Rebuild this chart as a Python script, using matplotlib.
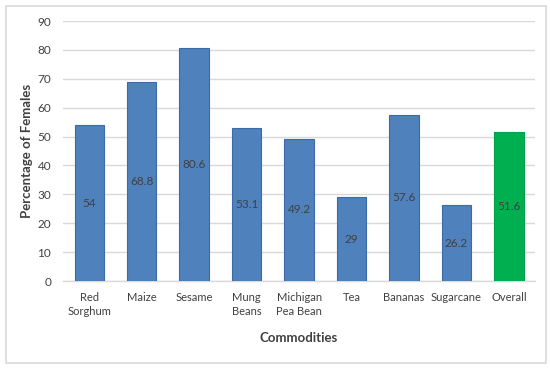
import matplotlib.pyplot as plt
from matplotlib.patches import Rectangle

categories = ["Red\nSorghum", "Maize", "Sesame", "Mung\nBeans", "Michigan\nPea Bean",
              "Tea", "Bananas", "Sugarcane", "Overall"]
values = [54, 68.8, 80.6, 53.1, 49.2, 29, 57.6, 26.2, 51.6]
labels = ["54", "68.8", "80.6", "53.1", "49.2", "29", "57.6", "26.2", "51.6"]
colors = ["#4f81bd"] * 8 + ["#00b050"]
edge_colors = ["#3b6aa6"] * 8 + ["#00a048"]

plt.rcParams["font.family"] = ["Lato", "DejaVu Sans"]

fig = plt.figure(figsize=(5.5, 3.7), dpi=100)
fig.patches.append(Rectangle((6 / 550, 7 / 370), 540 / 550, 357 / 370, transform=fig.transFigure,
                             fill=False, edgecolor="#d9d9d9", linewidth=1.2))
ax = fig.add_axes([0.1145, 0.2405, 0.8585, 0.7025])

x = range(len(categories))
bars = ax.bar(x, values, width=0.56, color=colors, edgecolor=edge_colors, linewidth=0.8, zorder=3)
for b, lab in zip(bars, labels):
    ax.text(b.get_x() + b.get_width() / 2, b.get_height() / 2, lab, ha="center", va="center",
            fontsize=8.5, color="#404040", zorder=4)

ax.set_xlim(-0.5, len(categories) - 0.5)
ax.set_ylim(0, 90)
ax.set_yticks(range(0, 91, 10))
ax.set_xticks(list(x))
ax.set_xticklabels(categories, fontsize=8, color="#404040", linespacing=1.3)
ax.tick_params(axis="y", labelsize=8.5, labelcolor="#404040", length=0, pad=8.5)
ax.tick_params(axis="x", length=0, pad=8)
ax.grid(axis="y", color="#d9d9d9", linewidth=1, zorder=0)
for side in ["top", "right", "left"]:
    ax.spines[side].set_visible(False)
ax.spines["bottom"].set_color("#d9d9d9")
ax.spines["bottom"].set_linewidth(1)

ax.set_ylabel("Percentage of Females", fontsize=9.5, fontweight="bold", color="#404040", labelpad=3)
ax.set_xlabel("Commodities", fontsize=9.5, fontweight="bold", color="#404040", labelpad=11)

fig.savefig("out.png", dpi=100)
